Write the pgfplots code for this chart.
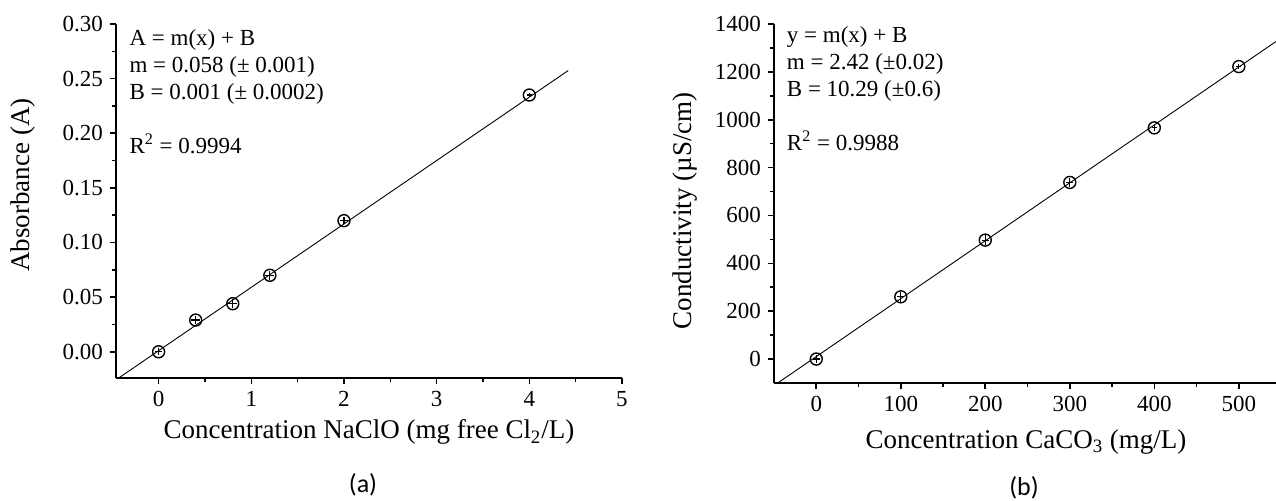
\documentclass[border=0pt]{standalone}
\usepackage{pgfplots}
\pgfplotsset{compat=1.18}
\usepackage{fontspec}
\setmainfont{Liberation Serif}
\newfontfamily\capfont{Carlito}

\pgfplotsset{
  calib/.style={
    scale only axis, axis lines=left,
    axis line style={-, line width=0.9pt},
    tick align=outside, tick style={black, line width=0.8pt},
    major tick length=3pt, minor tick length=2pt,
    minor tick num=1,
    /pgf/number format/assume math mode=true,
    /pgf/number format/1000 sep={},
    tick label style={font=\fontsize{11.5}{13}\selectfont},
    label style={font=\fontsize{13.5}{15}\selectfont},
    clip=true,
  },
  fitline/.style={black, line width=0.45pt, no marks},
  pts/.style={black, only marks, mark=o, mark size=3pt,
    mark options={line width=0.7pt},
    error bars/.cd, x dir=both, x explicit, y dir=both, y explicit,
    error mark=none, error bar style={line width=0.6pt}},
}
\tikzset{note/.style={anchor=north west, align=left, inner sep=0pt,
    font=\fontsize{11.5}{13.5}\selectfont}}

\begin{document}
\begin{tikzpicture}
\path[use as bounding box] (0pt,0pt) rectangle (638pt,250.5pt);

% (a) absorbance calibration
\begin{axis}[calib, at={(58pt,61.5pt)}, anchor=south west,
  width=253pt, height=177pt,
  xmin=-0.46, xmax=5, ymin=-0.024, ymax=0.30,
  xtick={0,1,2,3,4,5},
  ytick={0,0.05,0.10,0.15,0.20,0.25,0.30},
  yticklabel style={/pgf/number format/.cd, fixed, fixed zerofill, precision=2},
  xlabel={Concentration NaClO (mg free Cl\textsubscript{2}/L)},
  ylabel={Absorbance (A)},
  xlabel style={at={(axis description cs:0.5,-0.153)}, anchor=center},
  ylabel style={at={(axis description cs:-0.184,0.545)}, anchor=center}]
\addplot[fitline] coordinates {(-0.46,-0.0257) (4.42,0.2574)};
\addplot[pts] coordinates {
  (0,0) +- (0.04,0.003)
  (0.4,0.029) +- (0.05,0.004)
  (0.8,0.044) +- (0.05,0.004)
  (1.2,0.070) +- (0.05,0.004)
  (2,0.120) +- (0.04,0.003)
  (4,0.235) +- (0.03,0.002)};
\node[note] at (axis description cs:0.026,0.985)
  {A = m(x) + B\\ m = 0.058 (± 0.001)\\ B = 0.001 (± 0.0002)\\[13.5pt] R\textsuperscript{2} = 0.9994};
\end{axis}

% (b) conductivity calibration
\begin{axis}[calib, at={(387pt,59pt)}, anchor=south west,
  width=251pt, height=179.5pt,
  xmin=-50, xmax=544, ymin=-100, ymax=1400,
  xtick={0,100,200,300,400,500},
  ytick={0,200,400,600,800,1000,1200,1400},
  xlabel={Concentration CaCO\textsubscript{3} (mg/L)},
  ylabel={Conductivity (µS/cm)},
  xlabel style={at={(axis description cs:0.502,-0.164)}, anchor=center},
  ylabel style={at={(axis description cs:-0.177,0.48)}, anchor=center}]
\addplot[fitline] coordinates {(-50,-110.7) (544,1326.8)};
\addplot[pts] coordinates {
  (0,0) +- (4,18)
  (100,260) +- (4,20)
  (200,497) +- (4,20)
  (300,738) +- (4,20)
  (400,966) +- (3,15)
  (500,1222) +- (3,12)};
\node[note] at (axis description cs:0.025,0.995)
  {y = m(x) + B\\ m = 2.42 (±0.02)\\ B = 10.29 (±0.6)\\[13.5pt] R\textsuperscript{2} = 0.9988};
\end{axis}

\node[font=\capfont\fontsize{13}{15}\selectfont] at (181.5pt,8pt) {(a)};
\node[font=\capfont\fontsize{13}{15}\selectfont] at (512pt,6.5pt) {(b)};
\end{tikzpicture}
\end{document}
